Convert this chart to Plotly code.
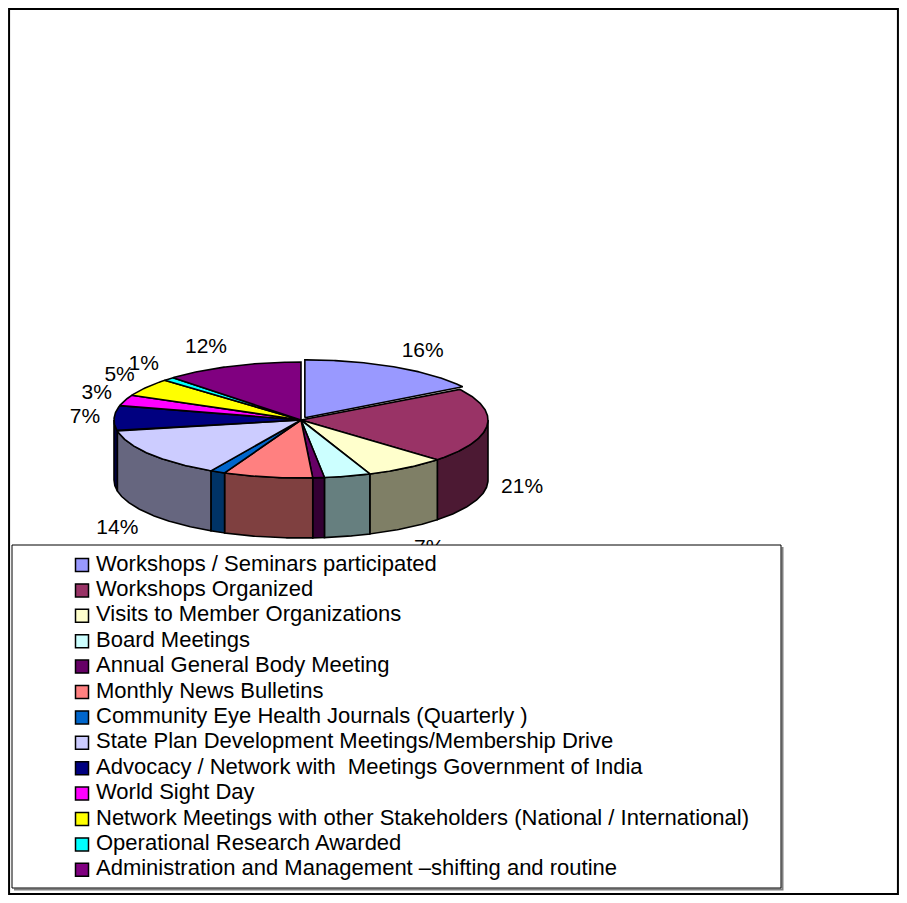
import numpy as np
import plotly.graph_objects as go

# ---------------- data ----------------
categories = [
    "Workshops / Seminars participated",
    "Workshops Organized",
    "Visits to Member Organizations",
    "Board Meetings",
    "Annual General Body Meeting",
    "Monthly News Bulletins",
    "Community Eye Health Journals (Quarterly )",
    "State Plan Development Meetings/Membership Drive",
    "Advocacy / Network with  Meetings Government of India",
    "World Sight Day",
    "Network Meetings with other Stakeholders (National / International)",
    "Operational Research Awarded",
    "Administration and Management \u2013shifting and routine",
]
values = [16, 21, 7, 4, 1, 7.7, 1.3, 14, 7, 3, 5, 1, 12]
top_colors = ["#9999FF", "#993366", "#FFFFCC", "#CCFFFF", "#660066", "#FF8080",
              "#0066CC", "#CCCCFF", "#000080", "#FF00FF", "#FFFF00", "#00FFFF",
              "#800080"]
explode = [1, 0, 0, 0, 0, 0, 0, 0, 0, 0, 0, 0, 0]

# ---------------- style / geometry (page pixels) ----------------
PAGE_W, PAGE_H = 907, 903
OFF = 8                      # default body margin of the html page
FIG_W, FIG_H = PAGE_W - 2 * OFF, PAGE_H - 2 * OFF
CX, CY = 301.0, 420.0        # centre of the top face
A, B = 187.0, 58.0           # ellipse radii
DEPTH = 60.0                 # thickness of the pie
EXPL = 8.0                   # explosion distance
LAB_DX, LAB_DY = 14.0, 20.0  # label distance from the pie edge
FRONT_DY = 25.0              # extra drop for labels of the front half
FONT = "Liberation Sans, Arial, sans-serif"
LX0, LX1, LY0, LY1 = 12, 781, 545, 888   # legend box


def darker(hexc, f=0.5):
    h = hexc.lstrip("#")
    r, g, b = (int(h[i:i + 2], 16) for i in (0, 2, 4))
    return "#%02X%02X%02X" % (int(r * f), int(g * f), int(b * f))


def ell(t_deg, ox=0.0, oy=0.0, dz=0.0):
    t = np.radians(t_deg)
    return CX + ox + A * np.sin(t), CY + oy - B * np.cos(t) + dz


total = float(sum(values))
ends = np.cumsum(values) / total * 360.0
starts = ends - np.array(values) / total * 360.0
pct_text = ["%d%%" % round(v / total * 100) for v in values]

fig = go.Figure()

offsets = []
for i in range(len(values)):
    mid = np.radians((starts[i] + ends[i]) / 2)
    e = EXPL * explode[i]
    offsets.append((e * np.sin(mid), -e * np.cos(mid) * B / A))

# side walls (front half only: angles 90..270)
for i in range(len(values)):
    t1, t2 = max(starts[i], 90.0), min(ends[i], 270.0)
    if t2 <= t1:
        continue
    ox, oy = offsets[i]
    ts = np.linspace(t1, t2, max(3, int((t2 - t1) * 2) + 2))
    xt, yt = ell(ts, ox, oy)
    xb, yb = ell(ts[::-1], ox, oy, DEPTH)
    xs = np.concatenate([xt, xb, xt[:1]])
    ys = np.concatenate([yt, yb, yt[:1]])
    fig.add_trace(go.Scatter(x=xs, y=ys, mode="lines", fill="toself",
                             fillcolor=darker(top_colors[i]),
                             line=dict(color="black", width=1.6),
                             hoverinfo="skip", showlegend=False))

# top faces
for i in range(len(values)):
    ox, oy = offsets[i]
    ts = np.linspace(starts[i], ends[i], max(3, int((ends[i] - starts[i]) * 2) + 2))
    xa, ya = ell(ts, ox, oy)
    xs = np.concatenate([[CX + ox], xa, [CX + ox]])
    ys = np.concatenate([[CY + oy], ya, [CY + oy]])
    fig.add_trace(go.Scatter(x=xs, y=ys, mode="lines", fill="toself",
                             fillcolor=top_colors[i],
                             line=dict(color="black", width=1.6),
                             name=categories[i], hoverinfo="name",
                             showlegend=False))

# percentage labels (those entirely behind the legend box are not visible)
mids = np.radians((starts + ends) / 2)
s, c = np.sin(mids), np.cos(mids)
lx = CX + (A + LAB_DX) * s + np.array([o[0] for o in offsets])
ly = np.where(c < 0,
              CY - (B + FRONT_DY) * c + DEPTH,
              CY - (B + LAB_DY) * c)
for side, pos in ((1, "middle right"), (-1, "middle left")):
    m = (ly - 8 < LY0) & (np.sign(s) == side)
    fig.add_trace(go.Scatter(x=lx[m], y=ly[m], mode="text",
                             text=[t for t, v in zip(pct_text, m) if v],
                             textposition=pos,
                             textfont=dict(family=FONT, size=21, color="black"),
                             hoverinfo="skip", showlegend=False))

# legend box with its grey shadow (drawn over the pie labels, as in the original)
fig.add_trace(go.Scatter(x=[LX1 + 1.5, LX1 + 1.5, LX0 + 2], y=[LY0 + 2, LY1 + 1.5, LY1 + 1.5],
                         mode="lines", line=dict(color="#808080", width=2),
                         hoverinfo="skip", showlegend=False))
fig.add_trace(go.Scatter(x=[LX0, LX1, LX1, LX0, LX0], y=[LY0, LY0, LY1, LY1, LY0],
                         mode="lines", fill="toself", fillcolor="white",
                         line=dict(color="black", width=1),
                         hoverinfo="skip", showlegend=False))

# legend entries
n = len(categories)
row_y = 565 + 25.4 * np.arange(n)
fig.add_trace(go.Scatter(x=[82] * n, y=row_y, mode="markers",
                         marker=dict(symbol="square", size=13, color=top_colors,
                                     line=dict(color="black", width=1.5)),
                         hoverinfo="skip", showlegend=False))
fig.add_trace(go.Scatter(x=[96] * n, y=row_y, mode="text", text=categories,
                         textposition="middle right",
                         textfont=dict(family=FONT, size=22, color="black"),
                         hoverinfo="skip", showlegend=False))

fig.update_layout(
    width=FIG_W, height=FIG_H, margin=dict(l=0, r=0, t=0, b=0),
    paper_bgcolor="white", plot_bgcolor="white", showlegend=False,
    xaxis=dict(range=[OFF, OFF + FIG_W], visible=False, fixedrange=True),
    yaxis=dict(range=[OFF + FIG_H, OFF], visible=False, fixedrange=True),
    shapes=[dict(type="rect", xref="paper", yref="paper",
                 x0=0.0012, x1=0.9988, y0=0.0012, y1=0.9988,
                 line=dict(color="black", width=2), layer="above")],
)

fig.write_html("out.html")
